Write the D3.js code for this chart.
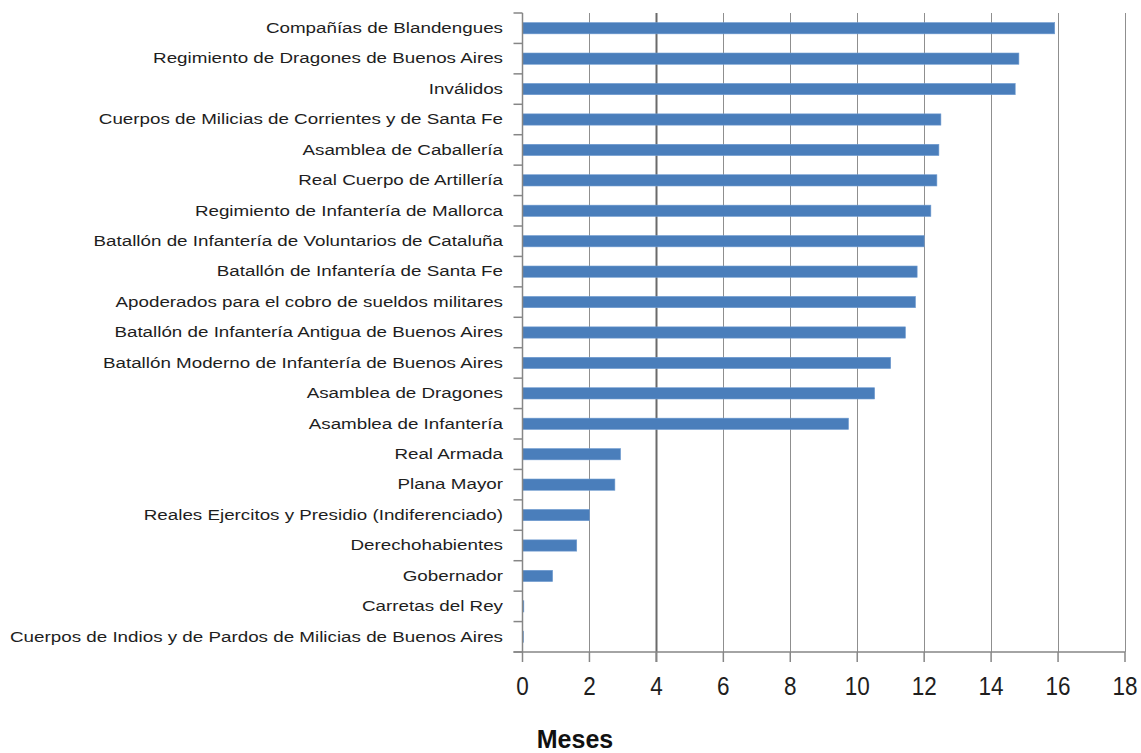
<!DOCTYPE html>
<html>
<head>
<meta charset="utf-8">
<script src="https://cdn.jsdelivr.net/npm/d3@7"></script>
<style>
  html, body { margin: 0; padding: 0; background: #fff; }
  svg { display: block; }
  text { font-family: "Liberation Sans", Arial, sans-serif; }
</style>
</head>
<body>
<svg id="chart" width="1141" height="753"></svg>
<script>
const categories = [
  "Compañías de Blandengues",
  "Regimiento de Dragones de Buenos Aires",
  "Inválidos",
  "Cuerpos de Milicias de Corrientes y de Santa Fe",
  "Asamblea de Caballería",
  "Real Cuerpo de Artillería",
  "Regimiento de Infantería de Mallorca",
  "Batallón de Infantería de Voluntarios de Cataluña",
  "Batallón de Infantería de Santa Fe",
  "Apoderados para el cobro de sueldos militares",
  "Batallón de Infantería Antigua de Buenos Aires",
  "Batallón Moderno de Infantería de Buenos Aires",
  "Asamblea de Dragones",
  "Asamblea de Infantería",
  "Real Armada",
  "Plana Mayor",
  "Reales Ejercitos y Presidio (Indiferenciado)",
  "Derechohabientes",
  "Gobernador",
  "Carretas del Rey",
  "Cuerpos de Indios y de Pardos de Milicias de Buenos Aires"
];
const months = [15.9, 14.83, 14.72, 12.5, 12.44, 12.38, 12.2, 12.0, 11.79, 11.74, 11.44, 11.0, 10.52, 9.74, 2.93, 2.76, 2.0, 1.62, 0.9, 0.04, 0.03];
const xTicks = [0, 2, 4, 6, 8, 10, 12, 14, 16, 18];
const xTitle = "Meses";

(function () {
const svg = d3.select("#chart");
const pLeft = 522.5, pRight = 1125, pTop = 13, pBottom = 652;

const x = d3.scaleLinear().domain([0, 18]).range([pLeft, pRight]);
const y = d3.scaleBand().domain(categories).range([pTop, pBottom]).paddingInner(0.63).paddingOuter(0.315);

// gridlines
svg.append("g").selectAll("line").data(xTicks.filter(d => d > 0)).join("line")
  .attr("x1", d => Math.round(x(d)) + 0.5).attr("x2", d => Math.round(x(d)) + 0.5)
  .attr("y1", pTop).attr("y2", pBottom)
  .attr("stroke", d => d === 4 ? "#6a6a6a" : "#8f8f8f")
  .attr("stroke-width", d => d === 4 ? 2 : 1);

// bars
svg.append("g").selectAll("rect").data(categories).join("rect")
  .attr("x", x(0))
  .attr("y", d => y(d))
  .attr("width", (d, i) => Math.max(1, x(months[i]) - x(0)))
  .attr("height", y.bandwidth())
  .attr("fill", "#4a7ebb")
  .attr("stroke", "#6f9bd0")
  .attr("stroke-width", 0.6);

// y axis (category boundary ticks)
const yAxis = svg.append("g");
yAxis.append("line").attr("x1", pLeft).attr("x2", pLeft).attr("y1", pTop).attr("y2", pBottom)
  .attr("stroke", "#868686").attr("stroke-width", 1.5);
const step = y.step();
const bounds = d3.range(categories.length + 1).map(i => pTop + i * step);
yAxis.selectAll("line.tk").data(bounds).join("line").attr("class", "tk")
  .attr("x1", pLeft - 9).attr("x2", pLeft).attr("y1", d => d).attr("y2", d => d)
  .attr("stroke", "#868686").attr("stroke-width", 1.5);

// category labels
const labs = svg.append("g").selectAll("g").data(categories).join("g");
const labTexts = labs.append("text")
  .attr("text-anchor", "end")
  .attr("dominant-baseline", "central")
  .attr("font-size", 15)
  .attr("fill", "#1e1e1e")
  .text(d => d);
let maxW = 0;
labTexts.each(function () { maxW = Math.max(maxW, this.getComputedTextLength()); });
const sx = (503 - 10) / maxW;
labs.attr("transform", d => `translate(503,${y(d) + y.bandwidth() / 2}) scale(${sx},1)`);

// x axis
const xAxis = svg.append("g");
xAxis.append("line").attr("x1", pLeft - 9).attr("x2", pRight).attr("y1", pBottom).attr("y2", pBottom)
  .attr("stroke", "#868686").attr("stroke-width", 1.5);
xAxis.selectAll("line.tk").data(xTicks).join("line").attr("class", "tk")
  .attr("x1", d => x(d)).attr("x2", d => x(d)).attr("y1", pBottom).attr("y2", pBottom + 10)
  .attr("stroke", "#868686").attr("stroke-width", d => d === 4 ? 2.2 : 1.5);
xAxis.selectAll("g.lb").data(xTicks).join("g").attr("class", "lb")
  .attr("transform", d => `translate(${x(d)},695) scale(0.9,1)`)
  .append("text")
  .attr("text-anchor", "middle")
  .attr("font-size", 25)
  .attr("fill", "#1e1e1e")
  .text(d => d);

// axis title
svg.append("text")
  .attr("x", 575).attr("y", 748)
  .attr("text-anchor", "middle")
  .attr("font-size", 25)
  .attr("font-weight", "bold")
  .attr("fill", "#111")
  .text(xTitle);
})();
</script>
</body>
</html>
